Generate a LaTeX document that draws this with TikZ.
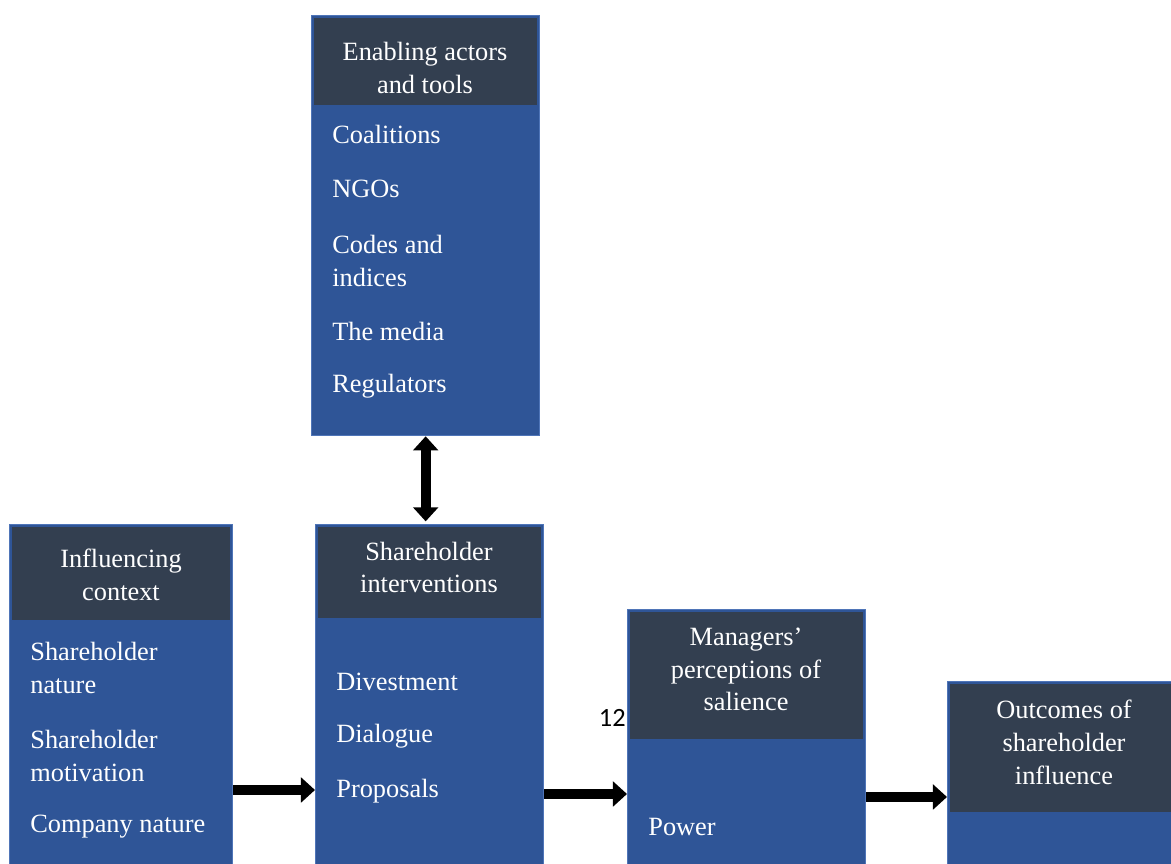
\documentclass[tikz,border=0pt]{standalone}
\usepackage{fontspec}
\setmainfont{Liberation Serif}
\newfontfamily\pagefont{Carlito}
\usetikzlibrary{arrows.meta}
\definecolor{panelblue}{HTML}{2F5597}
\definecolor{paneledge}{HTML}{4F75B8}
\definecolor{headdark}{HTML}{333F50}

\begin{document}
\begin{tikzpicture}[x=0.02cm,y=-0.02cm,
    panel/.style={draw=paneledge,fill=panelblue,line width=0.8pt,anchor=north west,inner sep=0pt},
    head/.style={fill=headdark,anchor=north,inner sep=0pt},
    title/.style={text=white,align=center,inner sep=0pt,
      font=\fontsize{15}{18.7}\selectfont},
    item/.style={text=white,anchor=west,align=left,inner sep=0pt,
      font=\fontsize{15}{18.7}\selectfont},
    bigarrow/.style={line width=5.5pt,-{Triangle[length=8pt,width=14pt]}}]
  \clip (0,0) rectangle (1171,864);

  % enabling actors and tools
  \node[panel,minimum width=4.56cm,minimum height=8.4cm] (E) at (311,15) {};
  \node[head,minimum width=4.46cm,minimum height=1.74cm] (Eh) at ([yshift=-0.05cm]E.north) {};
  \node[title] (Et) at (425,68) {Enabling actors\\and tools};
  \node[item] (E1) at (332,134) {Coalitions};
  \node[item] (E2) at (332,189) {NGOs};
  \node[item] (E3) at (332,261) {Codes and\\indices};
  \node[item] (E4) at (332,331) {The media};
  \node[item] (E5) at (332,386) {Regulators};

  % influencing context
  \node[panel,minimum width=4.46cm,minimum height=7cm] (I) at (9,524) {};
  \node[head,minimum width=4.36cm,minimum height=1.86cm] (Ih) at ([yshift=-0.05cm]I.north) {};
  \node[title] (It) at (121,574.5) {Influencing\\context};
  \node[item] (I1) at (30,668) {Shareholder\\nature};
  \node[item] (I2) at (30,756) {Shareholder\\motivation};
  \node[item] (I3) at (30,827) {Company nature};

  % shareholder interventions
  \node[panel,minimum width=4.56cm,minimum height=7cm] (S) at (315,524) {};
  \node[head,minimum width=4.46cm,minimum height=1.82cm] (Sh) at ([yshift=-0.05cm]S.north) {};
  \node[title] (St) at (429,567.5) {Shareholder\\interventions};
  \node[item] (S1) at (336,682) {Divestment};
  \node[item] (S2) at (336,736) {Dialogue};
  \node[item] (S3) at (336,791) {Proposals};

  % managers' perceptions
  \node[panel,minimum width=4.76cm,minimum height=5.4cm] (M) at (627,609) {};
  \node[head,minimum width=4.66cm,minimum height=2.54cm] (Mh) at ([yshift=-0.05cm]M.north) {};
  \node[title] (Mt) at (746,669.5) {Managers’\\perceptions of\\salience};
  \node[item] (M1) at (648,827) {Power};

  % outcomes
  \node[panel,minimum width=4.56cm,minimum height=4cm] (O) at (947,681) {};
  \node[head,minimum width=4.46cm,minimum height=2.56cm] (Oh) at ([yshift=-0.05cm]O.north) {};
  \node[title] (Ot) at (1064,742) {Outcomes of\\shareholder\\influence};

  \node[anchor=east,inner sep=0pt,font=\pagefont\fontsize{15}{18}\selectfont] (pg) at (626,718) {12};

  \draw[bigarrow,{Triangle[length=8pt,width=14pt]}-{Triangle[length=8pt,width=14pt]}]
    (E.south) -- ([yshift=1.5pt]E.south |- S.north);
  \draw[bigarrow] (I.east |- 0,790) -- (S.west |- 0,790);
  \draw[bigarrow] (S.east |- 0,794) -- (M.west |- 0,794);
  \draw[bigarrow] (M.east |- 0,797) -- (O.west |- 0,797);
\end{tikzpicture}
\end{document}
